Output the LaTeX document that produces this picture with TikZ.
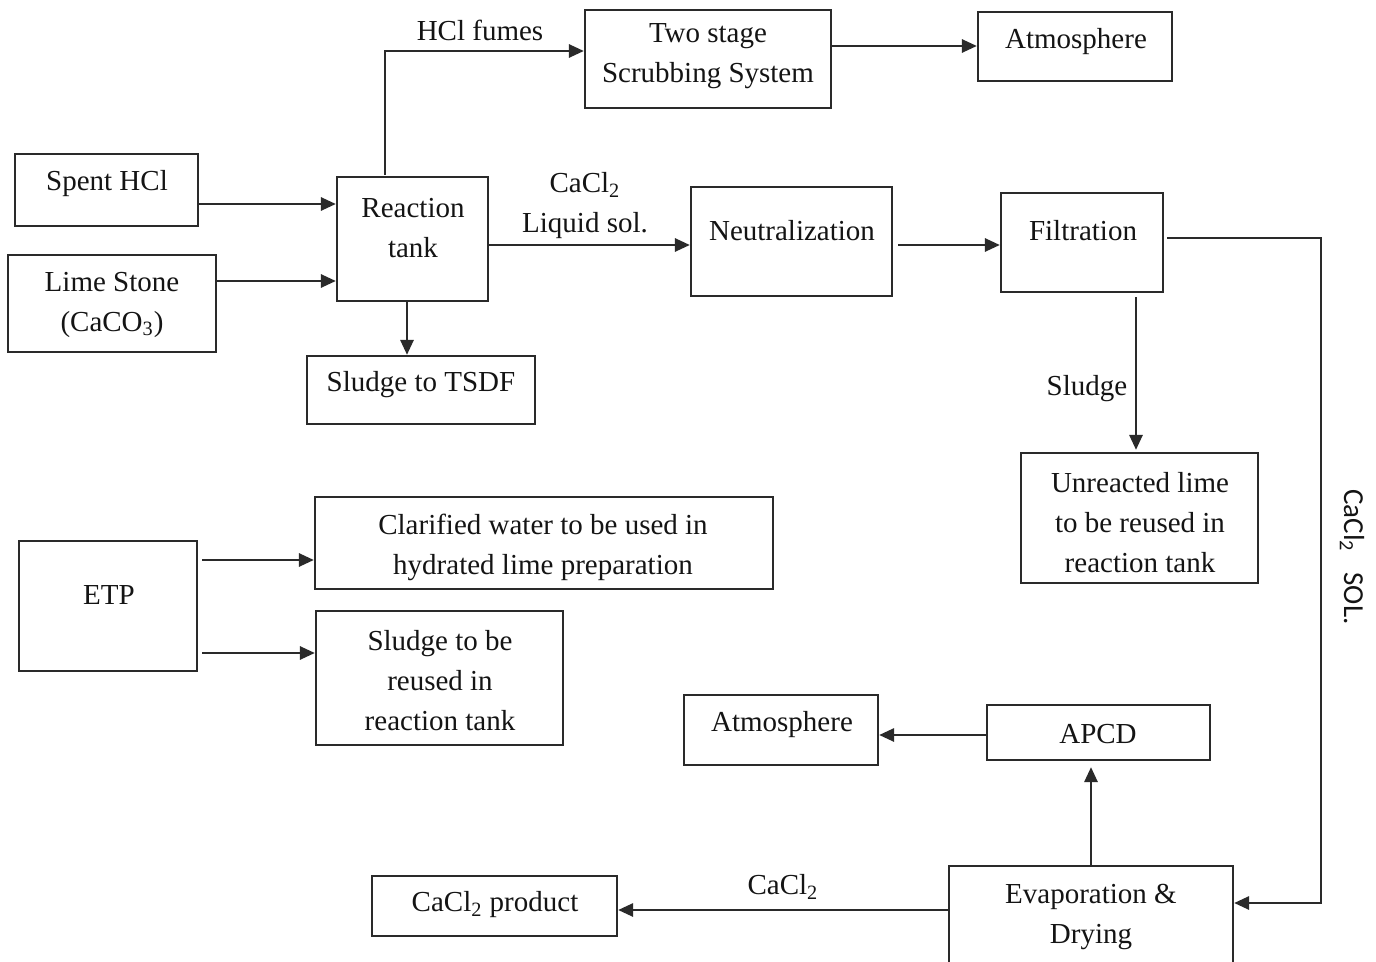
\documentclass[tikz,border=0pt]{standalone}
\usepackage{fontspec}
\setmainfont{Liberation Serif}
\newfontfamily\calib{Carlito}
\usetikzlibrary{arrows.meta,fit}
\definecolor{linec}{HTML}{2A2A2A}
\definecolor{textc}{HTML}{141414}
\begin{document}
\begin{tikzpicture}[x=0.5pt,y=-0.5pt,
  box/.style={draw=linec, line width=1.1pt, inner sep=0pt},
  txt/.style={font=\fontsize{14.5}{20}\selectfont, align=center, inner sep=0pt, text=textc},
  arr/.style={draw=linec, line width=1.4pt, -{Triangle[length=7.5pt,width=6.5pt]}},
  ln/.style={draw=linec, line width=1.4pt}]
\useasboundingbox (0,0) rectangle (1376,962);
\fill[white] (0,0) rectangle (1376,962);

% boxes
\node[box, fit={(15,154) (198,226)}] (spent) {};
\node[box, fit={(8,255) (216,352)}] (lime) {};
\node[box, fit={(337,177) (488,301)}] (react) {};
\node[box, fit={(307,356) (535,424)}] (tsdf) {};
\node[box, fit={(585,10) (831,108)}] (scrub) {};
\node[box, fit={(978,12) (1172,81)}] (atm1) {};
\node[box, fit={(691,187) (892,296)}] (neut) {};
\node[box, fit={(1001,193) (1163,292)}] (filt) {};
\node[box, fit={(1021,453) (1258,583)}] (unre) {};
\node[box, fit={(19,541) (197,671)}] (etp) {};
\node[box, fit={(315,497) (773,589)}] (clar) {};
\node[box, fit={(316,611) (563,745)}] (sreuse) {};
\node[box, fit={(684,695) (878,765)}] (atm2) {};
\node[box, fit={(987,705) (1210,760)}] (apcd) {};
\node[box, fit={(372,876) (617,936)}] (prod) {};
\node[box, fit={(949,866) (1233,966)}] (evap) {};

% texts
\node[txt] (tspent) at (107,184) {Spent HCl};
\node[txt] (tlime) at (112,305) {Lime Stone\\(CaCO\textsubscript{3})};
\node[txt] (treact) at (413,228) {Reaction\\tank};
\node[txt] (ttsdf) at (421,385) {Sludge to TSDF};
\node[txt] (tscrub) at (708,56) {Two stage\\Scrubbing System};
\node[txt] (tatm1) at (1076,42) {Atmosphere};
\node[txt] (tneut) at (792,231) {Neutralization};
\node[txt] (tfilt) at (1083,231) {Filtration};
\node[txt] (tunre) at (1140,523) {Unreacted lime\\to be reused in\\reaction tank};
\node[txt] (tetp) at (109,595) {ETP};
\node[txt] (tclar) at (543,547) {Clarified water to be used in\\hydrated lime preparation};
\node[txt] (tsreuse) at (440,681) {Sludge to be\\reused in\\reaction tank};
\node[txt] (tatm2) at (782,725) {Atmosphere};
\node[txt] (tapcd) at (1098,734) {APCD};
\node[txt] (tprod) at (495,905) {CaCl\textsubscript{2} product};
\node[txt] (tevap) at (1091,917) {Evaporation \&\\Drying};

% connector labels
\node[txt] (lfumes) at (480,30) {HCl fumes};
\node[txt] (lcacl) at (585,206) {CaCl\textsubscript{2}\\Liquid sol.};
\node[txt] (lsludge) at (1087,389) {Sludge};
\node[txt] (lcacl2) at (783,887) {CaCl\textsubscript{2}};
\node[txt, font=\calib\fontsize{14.5}{18}\selectfont, rotate=-90] (lsol) at (1352,557) {CaCl\textsubscript{2}\hspace{0.7em}SOL.};

% connectors
\coordinate (fup) at (385,51);
\coordinate (rtop) at (385,175);
\draw[arr] (rtop) -- (fup) -- (scrub.west |- fup);
\draw[arr] (spent.east |- 0,204) -- (react.west |- 0,204);
\draw[arr] (lime.east |- 0,281) -- (react.west |- 0,281);
\draw[arr] (react.east |- 0,245) -- (neut.west |- 0,245);
\draw[arr] (react.south -| 407,0) -- (tsdf.north -| 407,0);
\draw[arr] (scrub.east |- 0,46) -- (atm1.west |- 0,46);
\draw[arr] ([xshift=2.5pt]neut.east |- 0,245) -- (filt.west |- 0,245);
\draw[arr] ([yshift=-2pt]filt.south -| 1136,0) -- ([yshift=1pt]unre.north -| 1136,0);
\coordinate (rt1) at (1321,238);
\coordinate (rt2) at (1321,903);
\draw[arr] ([xshift=1.5pt]filt.east |- rt1) -- (rt1) -- (rt2) -- (evap.east |- rt2);
\draw[arr] ([xshift=2pt]etp.east |- 0,560) -- (clar.west |- 0,560);
\draw[arr] ([xshift=2pt]etp.east |- 0,653) -- (sreuse.west |- 0,653);
\draw[arr] (apcd.west |- 0,735) -- (atm2.east |- 0,735);
\draw[arr] (evap.north -| 1091,0) -- ([yshift=-3pt]apcd.south -| 1091,0);
\draw[arr] (evap.west |- 0,910) -- (prod.east |- 0,910);
\end{tikzpicture}
\end{document}
